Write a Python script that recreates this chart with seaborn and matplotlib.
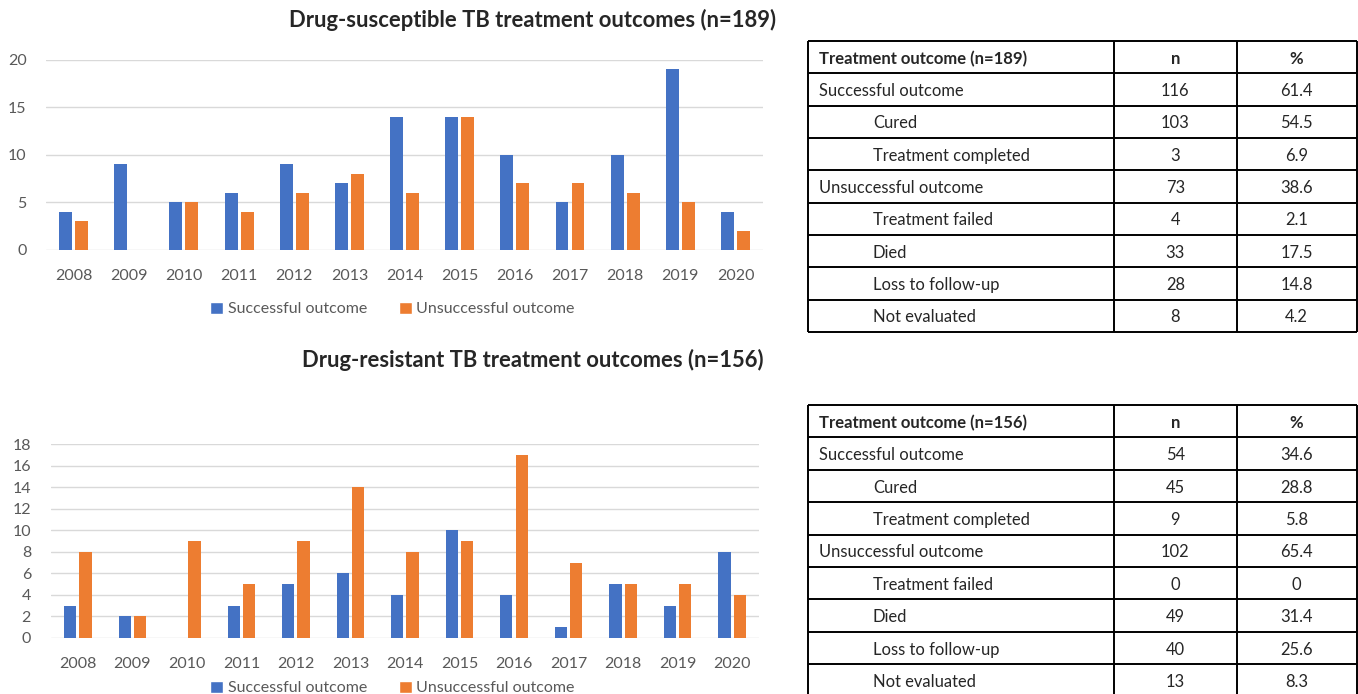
import pandas as pd
import matplotlib
matplotlib.use("Agg")
import matplotlib.pyplot as plt
from matplotlib.patches import Patch
import seaborn as sns

years = [2008, 2009, 2010, 2011, 2012, 2013, 2014, 2015, 2016, 2017, 2018, 2019, 2020]
series_names = ["Successful outcome", "Unsuccessful outcome"]

ds_success = [4, 9, 5, 6, 9, 7, 14, 14, 10, 5, 10, 19, 4]
ds_unsuccess = [3, 0, 5, 4, 6, 8, 6, 14, 7, 7, 6, 5, 2]
dr_success = [3, 2, 0, 3, 5, 6, 4, 10, 4, 1, 5, 3, 8]
dr_unsuccess = [8, 2, 9, 5, 9, 14, 8, 9, 17, 7, 5, 5, 4]

table_labels = ["Successful outcome", "Cured", "Treatment completed",
                "Unsuccessful outcome", "Treatment failed", "Died",
                "Loss to follow-up", "Not evaluated"]
table_indent = [False, True, True, False, True, True, True, True]
ds_n = ["116", "103", "3", "73", "4", "33", "28", "8"]
ds_pct = ["61.4", "54.5", "6.9", "38.6", "2.1", "17.5", "14.8", "4.2"]
dr_n = ["54", "45", "9", "102", "0", "49", "40", "13"]
dr_pct = ["34.6", "28.8", "5.8", "65.4", "0", "31.4", "25.6", "8.3"]

BLUE = "#4472C4"
ORANGE = "#ED7D31"
GRID = "#D9D9D9"
TICK = "#595959"

sns.set_style("white")
plt.rcParams["font.family"] = ["Lato", "DejaVu Sans"]


def long_df(succ, unsucc):
    rows = []
    for y, s, u in zip(years, succ, unsucc):
        rows.append({"year": str(y), "count": s, "outcome": series_names[0]})
        rows.append({"year": str(y), "count": u, "outcome": series_names[1]})
    return pd.DataFrame(rows)


def bar_chart(ax, df, ymax, step, width, gap):
    sns.barplot(data=df, x="year", y="count", hue="outcome",
                palette=[BLUE, ORANGE], saturation=1, width=width, gap=gap,
                linewidth=0, legend=False, ax=ax)
    ax.set_xlim(-0.5, len(years) - 0.5)
    ax.set_ylim(0, ymax)
    ax.set_yticks(range(0, ymax + 1, step))
    ax.yaxis.grid(True, color=GRID, lw=1)
    ax.set_axisbelow(True)
    for s in ax.spines.values():
        s.set_visible(False)
    ax.tick_params(axis="both", length=0, labelsize=11.5, labelcolor=TICK)
    ax.tick_params(axis="x", pad=14)
    ax.tick_params(axis="y", pad=14)
    ax.set_xlabel("")
    ax.set_ylabel("")


def legend(fig, ax, x, y):
    handles = [Patch(facecolor=BLUE), Patch(facecolor=ORANGE)]
    ax.legend(handles, series_names, loc="center", bbox_to_anchor=(x, y),
              bbox_transform=fig.transFigure, ncol=2, frameon=False,
              handlelength=0.8, handleheight=0.8, handletextpad=0.3,
              columnspacing=2.0, fontsize=11.5, labelcolor=TICK)


def table(ax, title, n_vals, pct_vals):
    nrows = len(table_labels) + 1
    ax.set_xlim(0, 1)
    ax.set_ylim(nrows, 0)
    ax.axis("off")
    ax.hlines(range(nrows + 1), 0, 1, color="black", lw=1.4, clip_on=False)
    ax.vlines([0, 0.557, 0.781, 1], 0, nrows, color="black", lw=1.4, clip_on=False)
    ax.text(0.020, 0.55, title, ha="left", va="center", fontsize=12, fontweight="bold")
    ax.text(0.669, 0.55, "n", ha="center", va="center", fontsize=12, fontweight="bold")
    ax.text(0.89, 0.55, "%", ha="center", va="center", fontsize=12, fontweight="bold")
    for i, (lab, ind, n, p) in enumerate(zip(table_labels, table_indent, n_vals, pct_vals)):
        yy = i + 1.55
        ax.text(0.118 if ind else 0.020, yy, lab, ha="left", va="center", fontsize=11.9)
        ax.text(0.669, yy, n, ha="center", va="center", fontsize=11.9)
        ax.text(0.89, yy, p, ha="center", va="center", fontsize=11.9)


fig = plt.figure(figsize=(13.58, 6.94), dpi=100)

ax1 = fig.add_axes([0.0339, 0.6398, 0.528, 0.2738])
bar_chart(ax1, long_df(ds_success, ds_unsuccess), 20, 5, 0.58, 0.19)
legend(fig, ax1, 0.289, 0.555)
fig.text(0.3925, 0.971, "Drug-susceptible TB treatment outcomes (n=189)",
         ha="center", va="center", fontsize=15.8, fontweight="bold")

ax2 = fig.add_axes([0.0372, 0.0807, 0.522, 0.2795])
bar_chart(ax2, long_df(dr_success, dr_unsuccess), 18, 2, 0.56, 0.2)
legend(fig, ax2, 0.289, 0.0086)
fig.text(0.3925, 0.481, "Drug-resistant TB treatment outcomes (n=156)",
         ha="center", va="center", fontsize=15.8, fontweight="bold")

tax1 = fig.add_axes([0.595, 0.5216, 0.4043, 0.4193])
table(tax1, "Treatment outcome (n=189)", ds_n, ds_pct)

tax2 = fig.add_axes([0.595, -0.0037, 0.4043, 0.4201])
table(tax2, "Treatment outcome (n=156)", dr_n, dr_pct)

fig.savefig("out.png", dpi=100)
